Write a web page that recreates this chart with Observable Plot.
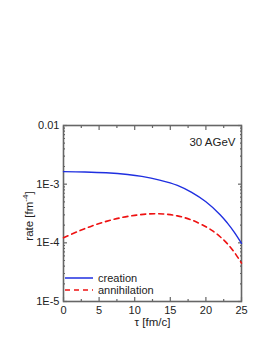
<!DOCTYPE html>
<html><head><meta charset="utf-8">
<script src="https://cdn.jsdelivr.net/npm/d3@7"></script>
<script src="https://cdn.jsdelivr.net/npm/@observablehq/plot@0.6"></script>
<style>
html,body{margin:0;padding:0;background:#fff;}
#wrap{position:relative;width:273px;height:353px;font-family:"Liberation Sans",Arial,sans-serif;}
#legend{position:absolute;left:65px;top:272px;font-size:11px;color:#222;line-height:12px;}
#legend div{display:flex;align-items:center;height:12px;}
#legend svg{margin-right:5px;}
</style></head>
<body><div id="wrap"><div id="legend"></div></div>
<script>
const tauCreation = [0, 3, 6, 9, 11, 13.5, 16, 18, 20, 22, 23, 24, 25];
const rateCreation = [1.633e-3, 1.614e-3, 1.563e-3, 1.462e-3, 1.358e-3, 1.175e-3, 9.55e-4, 7.24e-4, 5.01e-4, 3.02e-4, 2.19e-4, 1.51e-4, 9.8e-5];
const tauAnnihilation = [0, 2, 4, 6, 8, 10, 12, 14, 16, 18, 20, 21, 22, 23, 24, 25];
const rateAnnihilation = [1.22e-4, 1.56e-4, 1.94e-4, 2.32e-4, 2.67e-4, 2.94e-4, 3.11e-4, 3.10e-4, 2.88e-4, 2.45e-4, 1.88e-4, 1.585e-4, 1.27e-4, 9.7e-5, 6.9e-5, 4.5e-5];
const xMajor = [0, 5, 10, 15, 20, 25];
const xMinor = [2.5, 7.5, 12.5, 17.5, 22.5];
const yMajor = [1e-5, 1e-4, 1e-3, 1e-2];
const yLabels = ["1E-5", "1E-4", "1E-3", "0.01"];
const yMinor = [1e-5, 1e-4, 1e-3].flatMap(d => [2,3,4,5,6,7,8,9].map(k => k * d));
const seriesNames = ["creation", "annihilation"];
const seriesColors = ["#1f2fe0", "#ee1111"];

const creation = tauCreation.map((t, i) => ({t, v: rateCreation[i]}));
const annihilation = tauAnnihilation.map((t, i) => ({t, v: rateAnnihilation[i]}));
const fmt = d => yLabels[yMajor.findIndex(m => Math.abs(Math.log10(m) - Math.log10(d)) < 1e-6)] ?? "";
const axisColor = "#666";

const chart = Plot.plot({
  width: 273, height: 353,
  marginLeft: 63, marginRight: 32, marginTop: 125, marginBottom: 52,
  style: {fontFamily: '"Liberation Sans", Arial, sans-serif', fontSize: "11px", color: "#222", background: "transparent"},
  x: {domain: [0, 25]},
  y: {type: "log", domain: [1e-5, 1e-2]},
  marks: [
    Plot.axisX(xMajor, {anchor: "bottom", tickSize: -4, tickPadding: 9, stroke: axisColor, strokeWidth: 1.2, fill: "#222", label: null}),
    Plot.axisX(xMinor, {anchor: "bottom", tickSize: -2, stroke: axisColor, strokeWidth: 1.2, text: null, label: null}),
    Plot.axisX(xMajor, {anchor: "top", tickSize: -4, stroke: axisColor, strokeWidth: 1.2, text: null, label: null}),
    Plot.axisX(xMinor, {anchor: "top", tickSize: -2, stroke: axisColor, strokeWidth: 1.2, text: null, label: null}),
    Plot.axisY(yMajor, {anchor: "left", tickSize: -4, tickPadding: 8, tickFormat: fmt, stroke: axisColor, strokeWidth: 1.2, fill: "#222", label: null}),
    Plot.axisY(yMinor, {anchor: "left", tickSize: -2, stroke: axisColor, strokeWidth: 1.2, text: null, label: null}),
    Plot.axisY(yMajor, {anchor: "right", tickSize: -4, stroke: axisColor, strokeWidth: 1.2, text: null, label: null}),
    Plot.axisY(yMinor, {anchor: "right", tickSize: -2, stroke: axisColor, strokeWidth: 1.2, text: null, label: null}),
    Plot.frame({stroke: axisColor, strokeWidth: 1.6}),
    Plot.line(creation, {x: "t", y: "v", stroke: seriesColors[0], strokeWidth: 1.4, curve: "catmull-rom"}),
    Plot.line(annihilation, {x: "t", y: "v", stroke: seriesColors[1], strokeWidth: 1.6, strokeDasharray: "5,4", curve: "catmull-rom"}),
    Plot.text(["30 AGeV"], {frameAnchor: "top-right", dx: -6, dy: 12, fontSize: 11.5, fill: "#222"}),
    Plot.text(["τ [fm/c]"], {frameAnchor: "bottom", dy: 24, fontSize: 11.5, fill: "#222"})
  ]
});
document.getElementById("wrap").appendChild(chart);
chart.style.position = "absolute"; chart.style.left = "0"; chart.style.top = "0";

// y axis label with superscript
const svg = d3.select(chart);
const yl = svg.append("text")
  .attr("transform", "translate(33,216) rotate(-90)")
  .attr("text-anchor", "middle")
  .attr("font-size", 11.5).attr("fill", "#222");
yl.append("tspan").text("rate [fm");
yl.append("tspan").attr("font-size", 8).attr("dy", -5).text("-4");
yl.append("tspan").attr("dy", 5).text("]");

const legend = document.getElementById("legend");
seriesNames.forEach((n, i) => {
  const row = document.createElement("div");
  row.innerHTML = `<svg width="28" height="6"><line x1="0" y1="3" x2="28" y2="3" stroke="${seriesColors[i]}" stroke-width="1.5" ${i ? 'stroke-dasharray="5,4"' : ''}/></svg><span>${n}</span>`;
  legend.appendChild(row);
});
</script></body></html>
